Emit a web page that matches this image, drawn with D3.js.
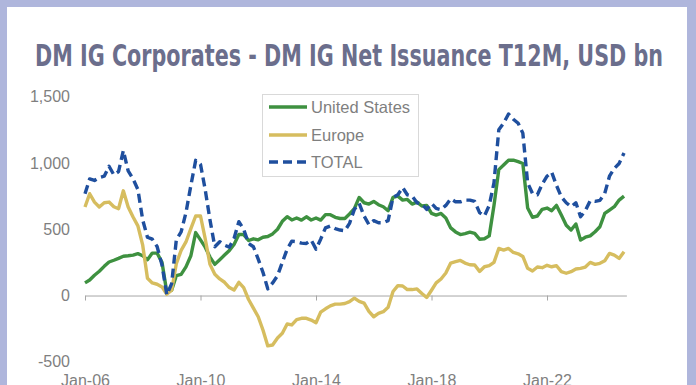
<!DOCTYPE html>
<html lang="en">
<head>
  <meta charset="utf-8">
  <script src="https://d3js.org/d3.v7.min.js"></script>
  <style type="text/css">
    body { margin: 0; background: #afb6dc; }
    svg { display: block; }
  </style>
</head>
<body>
  <svg id="chart" width="696" height="385"></svg>

  <script>
    // values, one every 2 months from Jan-06
    const startMonth = new Date(2006, 0, 1);
    const stepMonths = 2;

    const usValues = [95, 117, 153, 183, 220, 253, 266, 280, 296, 300,
      305, 316, 300, 270, 320, 320, 250, 25, 40, 150,
      160, 216, 300, 475, 420, 365, 290, 235, 270, 305,
      340, 385, 460, 460, 415, 428, 420, 440, 445, 465,
      500, 560, 595, 570, 585, 569, 594, 570, 585, 569,
      610, 610, 590, 581, 581, 615, 655, 740, 700, 690,
      710, 685, 670, 640, 740, 750, 720, 725, 690, 705,
      675, 680, 619, 607, 619, 585, 510, 480, 460, 467,
      478, 469, 425, 428, 450, 680, 950, 985, 1020, 1021,
      1010, 996, 660, 590, 600, 650, 660, 640, 680, 607,
      530, 494, 540, 418, 440, 450, 481, 519, 619, 645,
      670, 720, 750];

    const europeValues = [668, 768, 705, 668, 700, 705, 670, 655, 790, 668,
      592, 525, 380, 130, 95, 85, 65, 10, 40, 240,
      341, 404, 505, 600, 600, 430, 235, 160, 125, 100,
      60, 41, 100, 60, -30, -95, -160, -260, -380, -373,
      -320, -285, -215, -222, -182, -172, -172, -185, -205, -125,
      -100, -78, -65, -65, -60, -46, -20, -44, -58, -120,
      -160, -135, -122, -88, 30, 75, 72, 45, 45, 50,
      15, -15, 40, 95, 125, 170, 245, 255, 265, 245,
      232, 230, 182, 217, 225, 250, 355, 343, 355, 325,
      315, 295, 205, 185, 215, 210, 228, 217, 225, 180,
      168, 180, 200, 205, 215, 250, 235, 243, 262, 318,
      305, 280, 330];

    const totalValues = [768, 880, 868, 890, 900, 975, 910, 935, 1094, 940,
      880, 800, 570, 440, 425, 370, 230, 5, 90, 420,
      480, 625, 830, 1020, 990, 800, 570, 368, 406, 380,
      365, 430, 557, 500, 393, 368, 275, 175, 50, 95,
      150, 250, 350, 410, 406, 395, 393, 418, 350, 425,
      510, 525, 505, 494, 489, 544, 650, 695, 600, 535,
      565, 549, 549, 565, 740, 760, 815, 760, 750, 700,
      690, 650, 695, 657, 648, 680, 730, 707, 707, 720,
      720, 710, 625, 600, 680, 850, 1250, 1300, 1370, 1330,
      1300, 1225, 850, 770, 760, 840, 900, 930, 830, 745,
      700, 670, 700, 594, 640, 715, 710, 718, 770, 900,
      959, 996, 1075];

    const seriesNames = ["United States", "Europe", "TOTAL"];
    const seriesColors = ["#3e9140", "#d6bd5f", "#1f4f9e"];
    const seriesDash = [null, null, "9,5"];
    const yTicks = [-500, 0, 500, 1000, 1500];
    const xTickYears = [2006, 2010, 2014, 2018, 2022];

    const svg = d3.select("svg#chart");

    // white card inside the lavender frame
    svg.append("rect")
      .attr("x", 7).attr("y", 7)
      .attr("width", 680).attr("height", 400)
      .attr("fill", "#ffffff");

    svg.append("text")
      .attr("x", 349)
      .attr("y", 66)
      .attr("text-anchor", "middle")
      .attr("textLength", 628)
      .attr("lengthAdjust", "spacingAndGlyphs")
      .style("font-family", "'Liberation Sans Narrow', 'DejaVu Sans Condensed', 'Roboto', sans-serif")
      .style("font-stretch", "condensed")
      .style("font-weight", "bold")
      .style("font-size", "30px")
      .style("fill", "#6b6e8c")
      .text("DM IG Corporates - DM IG Net Issuance T12M, USD bn");

    const x = d3.scaleTime()
      .domain([startMonth, d3.timeMonth.offset(startMonth, 225)])
      .range([85, 626.4]);

    const y = d3.scaleLinear()
      .domain([-500, 1500])
      .range([361.8, 96.7]);

    const dates = usValues.map((d, i) => d3.timeMonth.offset(startMonth, i * stepMonths));
    const allSeries = [usValues, europeValues, totalValues];

    const axisFont = "'Liberation Sans', Arial, sans-serif";

    // plain hyphen for negatives, like the original
    const numFormat = d3.formatLocale({
      decimal: ".", thousands: ",", grouping: [3], currency: ["$", ""], minus: "-"
    }).format(",");

    // y axis labels only, no line
    const yAxis = svg.append("g")
      .attr("transform", "translate(70,0)")
      .call(d3.axisLeft(y).tickValues(yTicks).tickSize(0).tickPadding(0)
        .tickFormat(numFormat));
    yAxis.select(".domain").remove();
    yAxis.selectAll("text")
      .style("font-family", axisFont)
      .style("font-size", "16px")
      .style("fill", "#7f7f7f");

    // x axis sits on zero
    const xAxis = svg.append("g")
      .attr("transform", "translate(0," + y(0) + ")")
      .call(d3.axisBottom(x)
        .tickValues(xTickYears.map((yr) => new Date(yr, 0, 1)))
        .tickSize(5).tickSizeOuter(0)
        .tickFormat(d3.timeFormat("%b-%y")));
    xAxis.select(".domain").attr("stroke", "#a6a6a6");
    xAxis.selectAll(".tick line").attr("stroke", "#a6a6a6");
    xAxis.selectAll("text")
      .attr("y", 90)
      .attr("dy", 0)
      .style("font-family", axisFont)
      .style("font-size", "16px")
      .style("fill", "#7f7f7f");

    const line = d3.line()
      .x((d, i) => x(dates[i]))
      .y((d) => y(d));

    svg.append("g")
      .selectAll("path")
      .data(allSeries)
      .join("path")
      .attr("d", (d) => line(d))
      .attr("fill", "none")
      .attr("stroke", (d, i) => seriesColors[i])
      .attr("stroke-width", 3.4)
      .attr("stroke-linejoin", "round")
      .attr("stroke-dasharray", (d, i) => seriesDash[i]);

    // legend
    const lgd = svg.append("g");
    lgd.append("rect")
      .attr("x", 262.5).attr("y", 94.5)
      .attr("width", 156).attr("height", 82)
      .attr("fill", "#ffffff")
      .attr("stroke", "#d9d9d9");

    const rowY = [107, 135, 162];
    lgd.selectAll("line")
      .data(seriesNames)
      .join("line")
      .attr("x1", 269).attr("x2", 307)
      .attr("y1", (d, i) => rowY[i]).attr("y2", (d, i) => rowY[i])
      .attr("stroke", (d, i) => seriesColors[i])
      .attr("stroke-width", 3.4)
      .attr("stroke-dasharray", (d, i) => seriesDash[i]);

    lgd.selectAll("text")
      .data(seriesNames)
      .join("text")
      .attr("x", 311)
      .attr("y", (d, i) => rowY[i] + 6)
      .style("font-family", axisFont)
      .style("font-size", "16.5px")
      .style("fill", "#7f7f7f")
      .text((d) => d);
  </script>
</body>
</html>
